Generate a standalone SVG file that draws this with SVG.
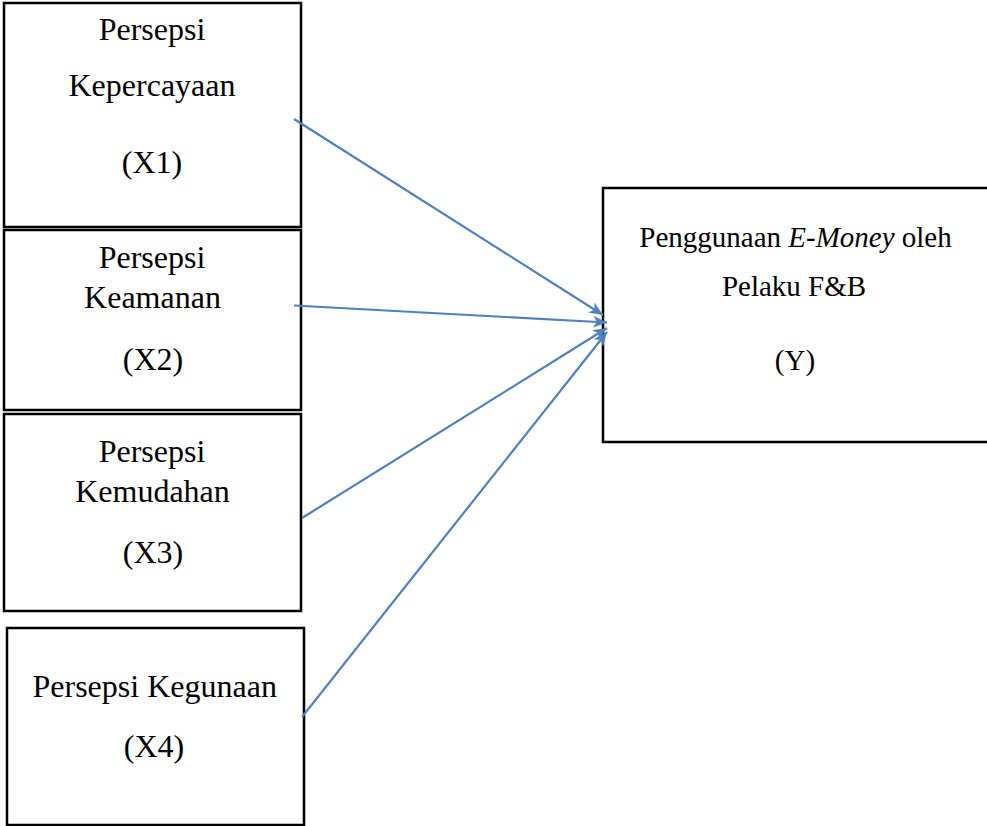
<svg xmlns="http://www.w3.org/2000/svg" width="987" height="826" viewBox="0 0 987 826">
<style>
.box{fill:#fff;stroke:#000;stroke-width:2.5}
.t{font-family:"Liberation Serif","Times New Roman",serif;font-size:32px;fill:#000;text-anchor:middle}
.ty{font-size:29px}
.c{fill:none;stroke:#4F81BD;stroke-width:2.2}
</style>
<defs>
<marker id="ah" markerUnits="userSpaceOnUse" markerWidth="16" markerHeight="12" refX="14" refY="6" orient="auto">
<path d="M0,0 L14,6 L0,12 L4,6 z" fill="#4F81BD"/>
</marker>
</defs>
<rect x="0" y="0" width="987" height="826" fill="#fff"/>
<g id="x1">
<rect class="box" x="4" y="3" width="297" height="224"/>
<text class="t" x="152" y="40">Persepsi</text>
<text class="t" x="152" y="96">Kepercayaan</text>
<text class="t" x="152" y="173">(X1)</text>
</g>
<g id="x2">
<rect class="box" x="4" y="230" width="297" height="180"/>
<text class="t" x="152" y="268">Persepsi</text>
<text class="t" x="152.5" y="308">Keamanan</text>
<text class="t" x="153" y="370">(X2)</text>
</g>
<g id="x3">
<rect class="box" x="4" y="414" width="297" height="197"/>
<text class="t" x="152" y="462">Persepsi</text>
<text class="t" x="152.5" y="502">Kemudahan</text>
<text class="t" x="153" y="563">(X3)</text>
</g>
<g id="x4">
<rect class="box" x="7" y="628" width="297" height="197"/>
<text class="t" x="154.7" y="697">Persepsi Kegunaan</text>
<text class="t" x="154" y="757">(X4)</text>
</g>
<g id="y">
<rect class="box" x="603" y="188" width="390" height="254"/>
<text class="t ty" x="795.5" y="247">Penggunaan <tspan font-style="italic">E-Money</tspan> oleh</text>
<text class="t ty" x="794" y="296">Pelaku F&amp;B</text>
<text class="t ty" x="795" y="370">(Y)</text>
</g>
<g id="connectors">
<line class="c" x1="294" y1="119" x2="603" y2="315" marker-end="url(#ah)"/>
<line class="c" x1="294" y1="305.5" x2="607" y2="322.5" marker-end="url(#ah)"/>
<line class="c" x1="302" y1="518" x2="607" y2="328" marker-end="url(#ah)"/>
<line class="c" x1="302" y1="717" x2="607" y2="332" marker-end="url(#ah)"/>
</g>
</svg>
